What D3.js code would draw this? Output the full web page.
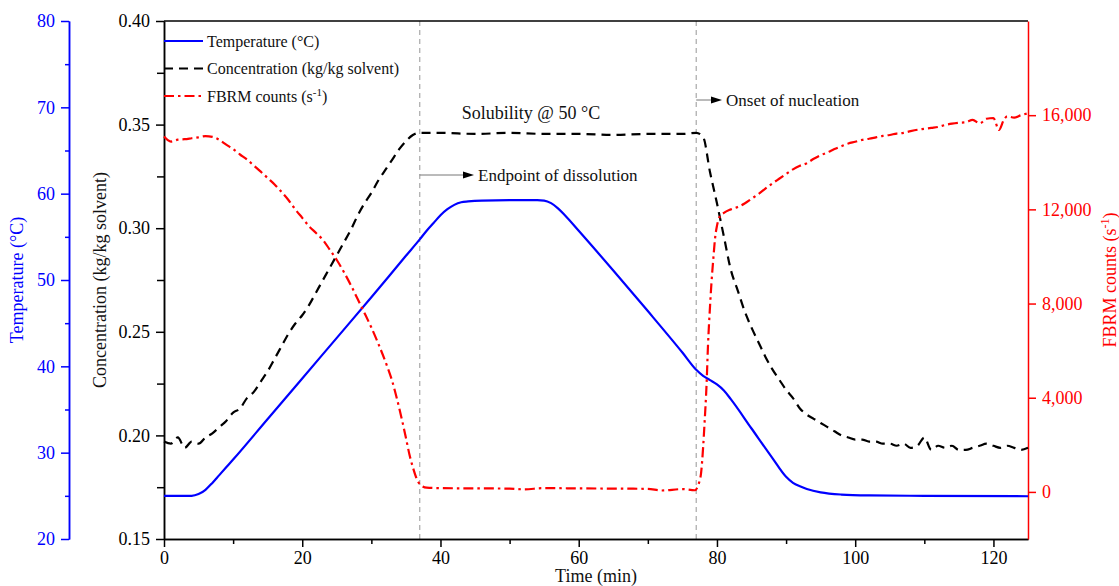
<!DOCTYPE html>
<html>
<head>
<meta charset="utf-8">
<script src="https://cdn.jsdelivr.net/npm/d3@7"></script>
<style>
  html, body { margin: 0; padding: 0; background: #fff; }
  svg { display: block; font-family: "Liberation Serif", "Times New Roman", serif; }
  svg text { font-family: "Liberation Serif", "Times New Roman", serif; }
</style>
</head>
<body>
<svg id="chart" width="1119" height="586"></svg>
<script>
// Temperature profile (°C) vs time (min)
const tempTime = [0, 4, 5, 6, 7, 8, 9, 10, 15, 20, 25, 30, 35, 37, 38, 39, 40, 41, 42, 43, 44, 46, 50, 54, 55, 56, 57, 58, 60, 65, 70, 75, 77, 78, 79, 80, 81, 82, 85, 88, 90, 91, 92, 93, 95, 98, 102, 110, 125];
const tempVals = [25.0, 25.0, 25.2, 25.7, 26.5, 27.4, 28.3, 29.2, 33.9, 38.6, 43.3, 48.0, 52.8, 54.7, 55.7, 56.6, 57.5, 58.2, 58.7, 59.0, 59.1, 59.2, 59.25, 59.25, 59.2, 58.9, 58.3, 57.5, 55.7, 51.1, 46.4, 41.6, 39.6, 38.9, 38.4, 37.9, 37.2, 36.2, 32.8, 29.4, 27.2, 26.5, 26.1, 25.8, 25.4, 25.15, 25.05, 25.0, 24.95];

// Solute concentration (kg/kg solvent) vs time (min)
const concTime = [0, 1, 2, 3, 4, 5, 6, 7, 8, 9, 10, 11, 12, 13, 14, 15, 16, 17, 18, 19, 20, 21, 22, 23, 24, 25, 26, 27, 28, 29, 30, 31, 32, 33, 34, 35, 36, 37, 40, 45, 50, 55, 60, 65, 70, 75, 77, 78, 79, 80, 81, 82, 83, 84, 85, 86, 87, 88, 89, 90, 91, 92, 93, 94, 95, 96, 97, 98, 99, 100, 101, 102, 103, 104, 105, 106, 107, 108, 109, 110, 111, 112, 113, 114, 115, 116, 117, 118, 119, 120, 121, 122, 123, 124, 125];
const concVals = [0.197, 0.196, 0.199, 0.194, 0.197, 0.196, 0.199, 0.201, 0.204, 0.207, 0.211, 0.213, 0.218, 0.221, 0.226, 0.231, 0.237, 0.243, 0.249, 0.254, 0.258, 0.263, 0.269, 0.275, 0.281, 0.287, 0.293, 0.299, 0.306, 0.312, 0.317, 0.323, 0.328, 0.333, 0.338, 0.342, 0.345, 0.346, 0.346, 0.3455, 0.346, 0.3455, 0.3455, 0.345, 0.3455, 0.3455, 0.346, 0.344, 0.327, 0.312, 0.296, 0.280, 0.270, 0.260, 0.252, 0.245, 0.238, 0.232, 0.227, 0.222, 0.218, 0.213, 0.210, 0.208, 0.206, 0.204, 0.202, 0.200, 0.199, 0.198, 0.198, 0.197, 0.197, 0.196, 0.196, 0.195, 0.196, 0.194, 0.195, 0.199, 0.193, 0.195, 0.194, 0.195, 0.193, 0.193, 0.194, 0.195, 0.196, 0.195, 0.194, 0.195, 0.194, 0.193, 0.194];

// FBRM counts (s^-1) vs time (min)
const fbrmTime = [0, 1, 2, 3, 4, 5, 6, 7, 8, 9, 10, 11, 12, 13, 14, 15, 16, 17, 18, 19, 20, 21, 22, 23, 24, 25, 26, 27, 28, 29, 30, 31, 32, 33, 34, 35, 35.5, 36, 36.5, 37, 38, 40, 45, 50, 52, 55, 60, 65, 70, 72, 75, 76.8, 77.3, 77.7, 78, 78.2, 78.5, 78.7, 79, 79.2, 79.5, 79.7, 80, 80.4, 81, 82, 83, 84, 85, 86, 87, 88, 89, 90, 91, 92, 93, 94, 95, 96, 97, 98, 99, 100, 101, 102, 103, 104, 105, 106, 107, 108, 109, 110, 111, 112, 113, 114, 115, 116, 117, 118, 119, 120, 120.8, 121.5, 122, 123, 124, 125];
const fbrmVals = [15090, 14880, 14960, 14980, 15020, 15060, 15110, 15080, 14950, 14750, 14560, 14330, 14120, 13860, 13600, 13330, 13060, 12740, 12400, 12000, 11640, 11280, 11000, 10700, 10280, 9850, 9350, 8800, 8200, 7600, 6980, 6300, 5560, 4720, 3600, 2300, 1600, 1050, 600, 330, 180, 160, 150, 140, 110, 160, 150, 140, 130, 60, 120, 70, 300, 800, 1900, 2900, 4600, 6200, 7900, 8860, 10000, 10700, 11300, 11690, 11850, 12000, 12100, 12250, 12450, 12650, 12880, 13100, 13300, 13500, 13700, 13850, 13960, 14150, 14300, 14420, 14560, 14680, 14800, 14870, 14950, 15000, 15060, 15120, 15160, 15220, 15250, 15320, 15380, 15420, 15460, 15500, 15580, 15640, 15680, 15700, 15800, 15650, 15850, 15880, 15370, 15800, 15950, 15900, 16000, 16080];

// Axis ticks
const timeTicks = [0, 20, 40, 60, 80, 100, 120];
const timeMinor = [10, 30, 50, 70, 90, 110];
const concTicks = [0.15, 0.20, 0.25, 0.30, 0.35, 0.40];
const concMinor = [0.175, 0.225, 0.275, 0.325, 0.375];
const tempTicks = [20, 30, 40, 50, 60, 70, 80];
const tempMinor = [25, 35, 45, 55, 65, 75];
const fbrmTicks = [0, 4000, 8000, 12000, 16000];

// Event markers (min)
const markerTimes = [37, 77];

const BLUE = "#0000ff", RED = "#ff0000";
const plotLeft = 164, plotRight = 1028, plotTop = 21, plotBottom = 539;
const tempAxisX = 69;

const svg = d3.select("#chart");

const x = d3.scaleLinear().domain([0, 125]).range([plotLeft, plotRight]);
const yConc = d3.scaleLinear().domain([0.15, 0.40]).range([plotBottom, plotTop]);
const yTemp = d3.scaleLinear().domain([20, 80]).range([plotBottom, plotTop]);
const yFbrm = d3.scaleLinear().domain([-2000, 20000]).range([plotBottom, plotTop]);

function styleAxis(g, color, size) {
  g.attr("font-family", null).attr("font-size", null);
  g.select(".domain").attr("stroke", color).attr("stroke-width", 1.5);
  g.selectAll(".tick line").attr("stroke", color).attr("stroke-width", 1.5);
  g.selectAll(".tick text").attr("fill", color).style("font-size", size + "px");
}

// Minor ticks (no labels)
function minor(axis, values, len) {
  return axis.tickValues(values).tickSize(len).tickFormat("");
}

// Vertical event markers
svg.append("g").selectAll("line").data(markerTimes).join("line")
  .attr("x1", d => x(d)).attr("x2", d => x(d))
  .attr("y1", plotTop).attr("y2", plotBottom)
  .attr("stroke", "#a8a8a8").attr("stroke-width", 1.2)
  .attr("stroke-dasharray", "5,4");

// Top frame
svg.append("line").attr("x1", plotLeft).attr("x2", plotRight).attr("y1", plotTop).attr("y2", plotTop)
  .attr("stroke", "#000").attr("stroke-width", 1.5);

// Bottom axis
const gx = svg.append("g").attr("transform", `translate(0,${plotBottom})`)
  .call(d3.axisBottom(x).tickValues(timeTicks).tickSize(8).tickPadding(4).tickSizeOuter(0));
styleAxis(gx, "#000", 18);
const gxm = svg.append("g").attr("transform", `translate(0,${plotBottom})`)
  .call(minor(d3.axisBottom(x), timeMinor, 5).tickSizeOuter(0));
styleAxis(gxm, "#000", 18);

// Concentration axis (left)
const gc = svg.append("g").attr("transform", `translate(${plotLeft},0)`)
  .call(d3.axisLeft(yConc).tickValues(concTicks).tickFormat(d3.format(".2f")).tickSize(8).tickPadding(6).tickSizeOuter(0));
styleAxis(gc, "#000", 18);
const gcm = svg.append("g").attr("transform", `translate(${plotLeft},0)`)
  .call(minor(d3.axisLeft(yConc), concMinor, 7).tickSizeOuter(0));
styleAxis(gcm, "#000", 18);

// Temperature axis (outer left)
const gt = svg.append("g").attr("transform", `translate(${tempAxisX},0)`)
  .call(d3.axisLeft(yTemp).tickValues(tempTicks).tickSize(8).tickPadding(6).tickSizeOuter(0));
styleAxis(gt, BLUE, 18);
const gtm = svg.append("g").attr("transform", `translate(${tempAxisX},0)`)
  .call(minor(d3.axisLeft(yTemp), tempMinor, 4).tickSizeOuter(0));
styleAxis(gtm, BLUE, 18);

// FBRM axis (right)
const gf = svg.append("g").attr("transform", `translate(${plotRight},0)`)
  .call(d3.axisRight(yFbrm).tickValues(fbrmTicks).tickFormat(d3.format(",")).tickSize(8).tickPadding(6).tickSizeOuter(0));
styleAxis(gf, RED, 18);

// Data lines
const tempData = tempTime.map((t, i) => [t, tempVals[i]]);
const concData = concTime.map((t, i) => [t, concVals[i]]);
const fbrmData = fbrmTime.map((t, i) => [t, fbrmVals[i]]);

svg.append("path").datum(tempData)
  .attr("fill", "none").attr("stroke", BLUE).attr("stroke-width", 2.2)
  .attr("d", d3.line().x(d => x(d[0])).y(d => yTemp(d[1])).curve(d3.curveMonotoneX));

svg.append("path").datum(concData)
  .attr("fill", "none").attr("stroke", "#000").attr("stroke-width", 2.2)
  .attr("stroke-dasharray", "9,6")
  .attr("d", d3.line().x(d => x(d[0])).y(d => yConc(d[1])).curve(d3.curveMonotoneX));

svg.append("path").datum(fbrmData)
  .attr("fill", "none").attr("stroke", RED).attr("stroke-width", 2.2)
  .attr("stroke-dasharray", "10,4,2.5,4")
  .attr("d", d3.line().x(d => x(d[0])).y(d => yFbrm(d[1])).curve(d3.curveMonotoneX));

// Legend
const legend = [
  { label: "Temperature (°C)", color: BLUE, dash: null },
  { label: "Concentration (kg/kg solvent)", color: "#000", dash: "9,6" },
  { label: "FBRM counts (s", color: RED, dash: "10,4,2.5,4", sup: "-1", tail: ")" }
];
const lg = svg.append("g");
legend.forEach((d, i) => {
  const yy = 41 + i * 27.5;
  lg.append("line").attr("x1", 164).attr("x2", 203).attr("y1", yy).attr("y2", yy)
    .attr("stroke", d.color).attr("stroke-width", 2.2)
    .attr("stroke-dasharray", d.dash);
  const t = lg.append("text").attr("x", 207).attr("y", yy + 5.5)
    .style("font-size", "16px").attr("fill", "#111").text(d.label);
  if (d.sup) {
    t.append("tspan").attr("dy", -6).style("font-size", "11px").text(d.sup);
    t.append("tspan").attr("dy", 6).text(d.tail);
  }
});

// Annotations
svg.append("text").attr("x", 531).attr("y", 119).attr("text-anchor", "middle")
  .style("font-size", "18px").attr("fill", "#111").text("Solubility @ 50 °C");

function arrow(x1, x2, yy) {
  svg.append("line").attr("x1", x1).attr("x2", x2 - 9).attr("y1", yy).attr("y2", yy)
    .attr("stroke", "#777").attr("stroke-width", 1);
  svg.append("path")
    .attr("d", `M${x2},${yy} L${x2 - 11},${yy - 3.5} L${x2 - 11},${yy + 3.5} Z`)
    .attr("fill", "#000");
}
arrow(x(markerTimes[0]), 474, 175);
svg.append("text").attr("x", 478).attr("y", 181)
  .style("font-size", "17px").attr("fill", "#111").text("Endpoint of dissolution");
arrow(x(markerTimes[1]), 722, 100);
svg.append("text").attr("x", 726).attr("y", 106)
  .style("font-size", "17px").attr("fill", "#111").text("Onset of nucleation");

// Axis titles
svg.append("text").attr("x", 596).attr("y", 582).attr("text-anchor", "middle")
  .style("font-size", "18px").attr("fill", "#111").text("Time (min)");

svg.append("text").attr("transform", "translate(106,280) rotate(-90)")
  .attr("text-anchor", "middle").style("font-size", "18px").attr("fill", "#111")
  .text("Concentration (kg/kg solvent)");

svg.append("text").attr("transform", "translate(23,280) rotate(-90)")
  .attr("text-anchor", "middle").style("font-size", "18px").attr("fill", BLUE)
  .text("Temperature (°C)");

const ft = svg.append("text").attr("transform", "translate(1116,280) rotate(-90)")
  .attr("text-anchor", "middle").style("font-size", "18px").attr("fill", RED)
  .text("FBRM counts (s");
ft.append("tspan").attr("dy", -7).style("font-size", "12px").text("-1");
ft.append("tspan").attr("dy", 7).text(")");
</script>
</body>
</html>
